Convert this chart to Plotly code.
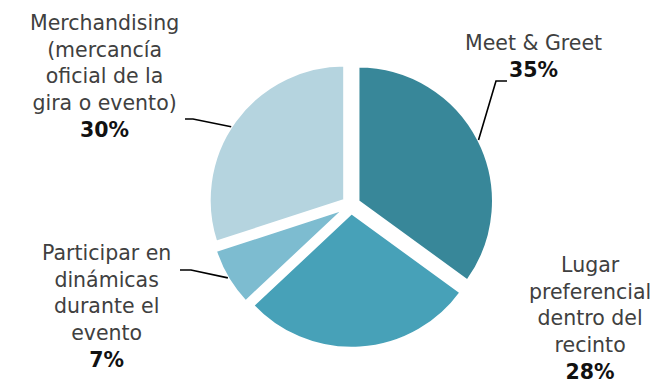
import math
import plotly.graph_objects as go

categories = ["Meet & Greet", "Lugar preferencial dentro del recinto",
              "Participar en dinámicas durante el evento",
              "Merchandising (mercancía oficial de la gira o evento)"]
values = [35, 28, 7, 30]
label_texts = [
    "Meet & Greet<br><b style='color:#111'>35%</b>",
    "Lugar<br>preferencial<br>dentro del<br>recinto<br><b style='color:#111'>28%</b>",
    "Participar en<br>dinámicas<br>durante el<br>evento<br><b style='color:#111'>7%</b>",
    "Merchandising<br>(mercancía<br>oficial de la<br>gira o evento)<br><b style='color:#111'>30%</b>",
]
colors = ["#388799", "#47A1B8", "#7DBCD0", "#B5D4DF"]

W, H = 659, 383
cx, cy = 343, 197
pull = 0.06
R = 135
half = R * (1 + pull)

def px(x):
    return x / W

def py(y):
    return 1 - y / H

dom_x = [(cx - half) / W, (cx + half) / W]
dom_y = [(H - cy - half) / H, (H - cy + half) / H]

fig = go.Figure(go.Pie(
    labels=categories, values=values, sort=False, direction="clockwise",
    rotation=0, pull=[pull] * 4, textinfo="none", hoverinfo="label+percent",
    marker=dict(colors=colors, line=dict(color="white", width=2.5)),
    domain=dict(x=dom_x, y=dom_y), showlegend=False,
))

FONT = "'DejaVu Sans', sans-serif"
label_pos = [(525, 49), (582, 310), (98, 298), (96, 68)]
for txt, (lx, ly) in zip(label_texts, label_pos):
    fig.add_annotation(x=px(lx), y=py(ly), xref="paper", yref="paper",
                       xanchor="center", yanchor="middle",
                       text=txt, showarrow=False, align="center",
                       font=dict(family=FONT, size=20.5, color="#404040"))

total = sum(values)
cum = 0
mids = []
for v in values:
    mids.append((cum + v / 2) / total * 2 * math.pi)
    cum += v

def edge_point(i, shift=0.0):
    a = mids[i] + shift
    d = R * (1 + pull)
    return cx + d * math.sin(a), cy - d * math.cos(a)

knees = {0: [(488, 73), (499, 73)], 2: [(183, 262), (172, 262)], 3: [(185, 111), (177, 111)]}
shifts = {0: 0.0, 2: 0.0, 3: -0.05}
for i, pts in knees.items():
    x0, y0 = edge_point(i, shifts[i])
    path = "M {:.4f} {:.4f}".format(px(x0), py(y0))
    for (qx, qy) in pts:
        path += " L {:.4f} {:.4f}".format(px(qx), py(qy))
    fig.add_shape(type="path", xref="paper", yref="paper", path=path,
                  line=dict(color="black", width=1.6))

fig.update_layout(width=W, height=H, margin=dict(l=0, r=0, t=0, b=0),
                  paper_bgcolor="white", plot_bgcolor="white")
fig.write_html("out.html")
